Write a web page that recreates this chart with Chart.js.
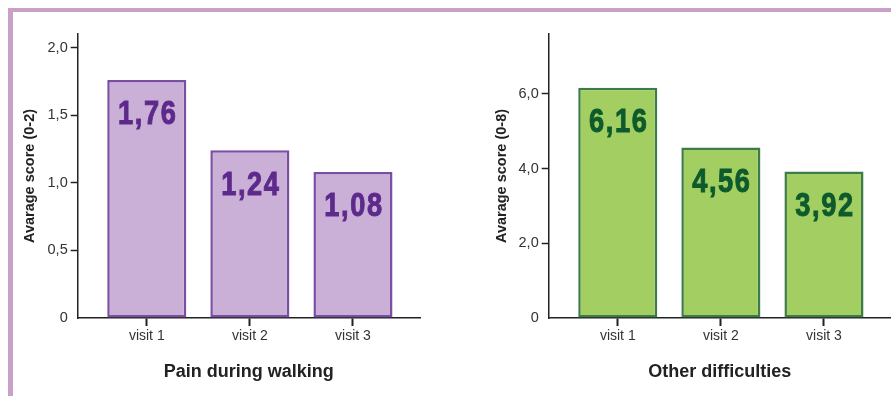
<!DOCTYPE html>
<html>
<head>
<meta charset="utf-8">
<script src="https://cdn.jsdelivr.net/npm/chart.js@4"></script>
<style>
  html, body { margin: 0; padding: 0; background: #fff; }
  body { width: 891px; height: 396px; position: relative; overflow: hidden; }
  .frame-top { position: absolute; left: 8px; top: 8px; width: 883px; height: 4px; background: #c9a0c7; }
  .frame-left { position: absolute; left: 8px; top: 8px; width: 5px; height: 388px; background: #c9a0c7; }
  .box { position: absolute; top: 0; height: 396px; }
  #left { left: 0; width: 445px; }
  #right { left: 445px; width: 446px; }
</style>
</head>
<body>
<div class="frame-top"></div>
<div class="frame-left"></div>
<div class="box" id="left"><canvas id="painChart"></canvas></div>
<div class="box" id="right"><canvas id="otherChart"></canvas></div>
<script>
const visits = ["visit 1", "visit 2", "visit 3"];
const visitPos = [1, 2, 3];

const painValues = [1.76, 1.24, 1.08];
const painTicks = [0, 0.5, 1.0, 1.5, 2.0];
const painTickLabels = ["0", "0,5", "1,0", "1,5", "2,0"];

const otherValues = [6.16, 4.56, 3.92];
const otherTicks = [0, 2.0, 4.0, 6.0];
const otherTickLabels = ["0", "2,0", "4,0", "6,0"];

Chart.defaults.font.family = "'Liberation Sans', Arial, sans-serif";
Chart.defaults.color = "#333";

// draws the value inside each bar, near the top, in a condensed heavy face
const barValueLabels = {
  id: "barValueLabels",
  afterDatasetsDraw(chart, args, opts) {
    const ctx = chart.ctx;
    const meta = chart.getDatasetMeta(0);
    meta.data.forEach((bar, i) => {
      const v = chart.data.datasets[0].data[i].y;
      const txt = v.toFixed(2).replace(".", ",");
      ctx.save();
      ctx.font = "bold 34px 'Liberation Sans', Arial, sans-serif";
      ctx.letterSpacing = "2px";
      ctx.fillStyle = opts.color;
      ctx.strokeStyle = opts.color;
      ctx.lineWidth = 1;
      ctx.textAlign = "center";
      ctx.textBaseline = "middle";
      ctx.translate(bar.x + 1, bar.y + 35);
      ctx.scale(0.8, 1);
      ctx.fillText(txt, 0, 0);
      ctx.strokeText(txt, 0, 0);
      ctx.restore();
    });
  }
};

function makeChart(id, values, yMax, ticks, tickLabels, yTitle, xTitle, fill, line, textColor, yWidth, yTitlePad, rightPad) {
  const ctx = document.getElementById(id).getContext("2d");
  return new Chart(ctx, {
    type: "bar",
    data: {
      datasets: [{
        data: values.map((v, i) => ({ x: visitPos[i], y: v })),
        backgroundColor: fill,
        borderColor: line,
        borderWidth: 2.5,
        borderSkipped: false,
        barPercentage: 0.767,
        categoryPercentage: 1
      }]
    },
    options: {
      responsive: true,
      maintainAspectRatio: false,
      animation: false,
      layout: { padding: { left: 0, top: 34, right: rightPad, bottom: 0 } },
      plugins: {
        legend: { display: false },
        tooltip: { enabled: false },
        barValueLabels: { color: textColor }
      },
      scales: {
        x: {
          type: "linear",
          offset: false,
          min: 0.33,
          max: 3.65,
          afterBuildTicks: axis => { axis.ticks = visitPos.map(v => ({ value: v })); },
          afterFit: scale => { scale.height = 78; },
          ticks: {
            callback: v => visits[v - 1],
            font: { size: 14 },
            color: "#333",
            padding: 2,
            maxRotation: 0
          },
          grid: { offset: false, drawOnChartArea: false, tickLength: 8, tickWidth: 2, tickColor: "#222" },
          border: { display: true, color: "#222", width: 1.5 },
          title: {
            display: true,
            text: xTitle,
            font: { size: 18, weight: "bold" },
            color: "#222",
            padding: { top: 0, bottom: 13 }
          }
        },
        y: {
          min: 0,
          max: yMax,
          afterBuildTicks: axis => { axis.ticks = ticks.map(v => ({ value: v })); },
          afterFit: scale => { scale.width = yWidth; },
          ticks: {
            callback: (v, i) => tickLabels[i],
            font: { size: 14.5 },
            color: "#333",
            padding: 3
          },
          grid: {
            drawOnChartArea: false,
            tickLength: 7,
            tickWidth: 1.5,
            tickColor: c => c.tick && c.tick.value === 0 ? "rgba(0,0,0,0)" : "#222"
          },
          border: { display: true, color: "#222", width: 1.5 },
          title: {
            display: true,
            text: yTitle,
            font: { size: 14.5, weight: "bold" },
            color: "#222",
            padding: { top: yTitlePad, bottom: 0 }
          }
        }
      }
    },
    plugins: [barValueLabels]
  });
}

makeChart("painChart", painValues, 2.1, painTicks, painTickLabels,
  "Avarage score (0-2)", "Pain during walking",
  "#cab0d6", "#7a4ea3", "#5d2a8c", 77.7, 21, 25);

makeChart("otherChart", otherValues, 7.6, otherTicks, otherTickLabels,
  "Avarage score (0-8)", "Other difficulties",
  "#a3cf62", "#3d7b4a", "#0d5a2c", 103.7, 48, 0);
</script>
</body>
</html>
